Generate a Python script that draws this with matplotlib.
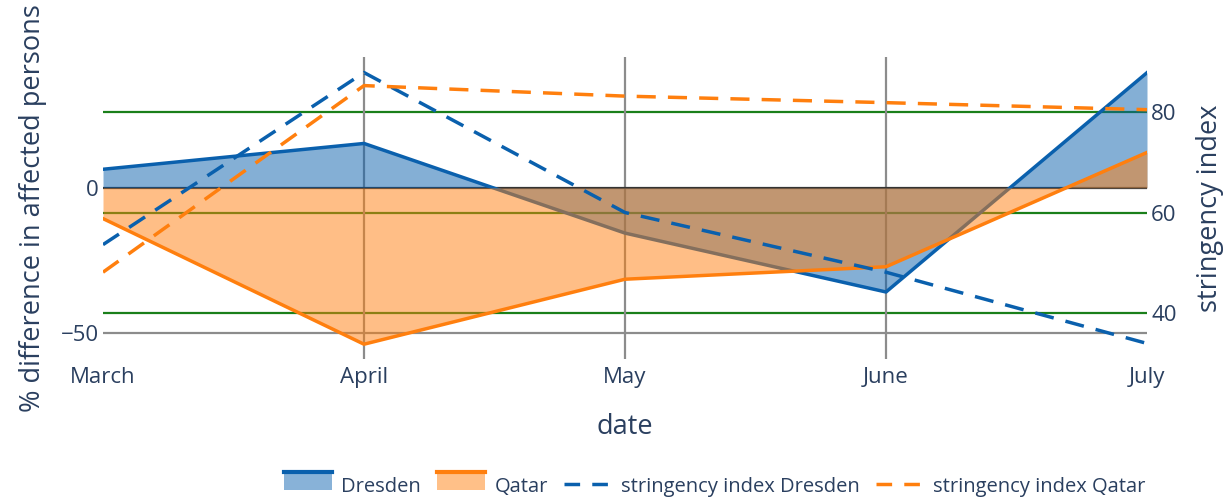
import matplotlib.pyplot as plt
from matplotlib.patches import Rectangle
from matplotlib.lines import Line2D

months = ["March", "April", "May", "June", "July"]
dresden = [6.4, 15.3, -15.6, -35.9, 39.7]
qatar = [-10.6, -53.9, -31.5, -27.2, 12.2]
stringency_dresden = [53.6, 87.9, 60.0, 48.1, 33.9]
stringency_qatar = [48.1, 85.3, 83.2, 81.9, 80.5]

blue = "#0a60ad"
orange = "#ff7f0e"
txt = "#2a3f5f"

plt.rcParams['font.family'] = ['Open Sans', 'DejaVu Sans']

fig = plt.figure(figsize=(12.28, 4.99), dpi=100)
pos = [103 / 1228, 140 / 499, 1044 / 1228, 302 / 499]
x = list(range(len(months)))

# bottom: right axis with green grid
ax2 = fig.add_axes(pos)
ax2.set_xlim(0, 4)
ax2.set_ylim(30.8, 91.0)
ax2.yaxis.tick_right()
ax2.yaxis.set_label_position("right")
ax2.set_yticks([40, 60, 80])
ax2.grid(axis="y", color="#1a7f1a", lw=1.6)
ax2.set_xticks([])
ax2.tick_params(axis="y", length=0, labelsize=16, labelcolor=txt, pad=3)
ax2.set_ylabel("stringency index", fontsize=19.5, color=txt, labelpad=14)
for s in ax2.spines.values():
    s.set_visible(False)

# middle: left axis with fills
ax = fig.add_axes(pos)
ax.patch.set_visible(False)
ax.set_xlim(0, 4)
ax.set_ylim(-59.0, 45.1)
ax.set_yticks([-50, 0])
ax.set_yticklabels(["\u221250", "0"])
ax.set_xticks(x)
ax.set_xticklabels(months)
for xi in x[1:-1]:
    ax.axvline(xi, color="#8c8c8c", lw=1.6, zorder=0)
ax.axhline(-50, color="#8c8c8c", lw=1.6, zorder=0)
ax.axhline(0, color="#333333", lw=1.6, zorder=0)
ax.fill_between(x, dresden, 0, color=blue, alpha=0.5, lw=0, zorder=1)
ax.plot(x, dresden, color=blue, lw=2.5, zorder=1)
ax.fill_between(x, qatar, 0, color=orange, alpha=0.5, lw=0, zorder=2)
ax.plot(x, qatar, color=orange, lw=2.5, zorder=2)
ax.tick_params(length=0, labelsize=16, labelcolor=txt)
ax.tick_params(axis="x", pad=6)
ax.tick_params(axis="y", pad=3)
ax.set_xlabel("date", fontsize=19.5, color=txt, labelpad=18)
ax.set_ylabel("% difference in affected persons", fontsize=19.5, color=txt, labelpad=10)
for s in ax.spines.values():
    s.set_visible(False)

# top: stringency dashed lines
ax3 = fig.add_axes(pos)
ax3.patch.set_visible(False)
ax3.axis("off")
ax3.set_xlim(0, 4)
ax3.set_ylim(30.8, 91.0)
ax3.plot(x, stringency_dresden, color=blue, lw=2.5, dashes=(5.5, 3.5))
ax3.plot(x, stringency_qatar, color=orange, lw=2.5, dashes=(5.5, 3.5))


class FillHandler:
    def __init__(self, line, fill):
        self.line = line
        self.fill = fill

    def legend_artist(self, legend, orig_handle, fontsize, handlebox):
        x0, y0 = handlebox.xdescent, handlebox.ydescent
        w, h = handlebox.width, handlebox.height
        tr = handlebox.get_transform()
        r = Rectangle((x0, y0), w, h, facecolor=self.fill, edgecolor="none", transform=tr)
        l = Line2D([x0, x0 + w], [y0 + h, y0 + h], color=self.line, lw=3, transform=tr)
        handlebox.add_artist(r)
        handlebox.add_artist(l)
        return r


h_d = Rectangle((0, 0), 1, 1)
h_q = Rectangle((0, 0), 1, 1)
h_sd = Line2D([], [], color=blue, lw=2.5, dashes=(4.5, 3.5))
h_sq = Line2D([], [], color=orange, lw=2.5, dashes=(4.5, 3.5))
fig.legend([h_d, h_q, h_sd, h_sq],
           ["Dresden", "Qatar", "stringency index Dresden", "stringency index Qatar"],
           handler_map={h_d: FillHandler(blue, "#88b2d8"), h_q: FillHandler(orange, "#ffc088")},
           loc="center", bbox_to_anchor=(0.582, 0.025), ncol=4, frameon=False,
           fontsize=14.5, labelcolor=txt, handlelength=2.4, handleheight=1.0,
           columnspacing=0.8, handletextpad=0.45)

fig.savefig("out.png", dpi=100)
